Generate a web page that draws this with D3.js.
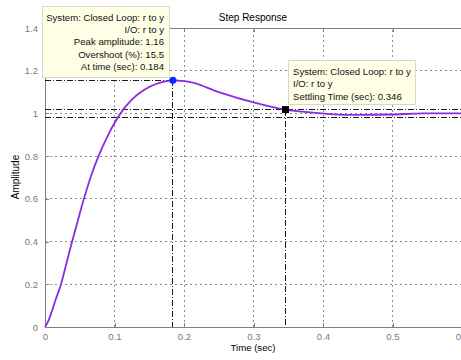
<!DOCTYPE html>
<html>
<head>
<meta charset="utf-8">
<script src="https://cdn.jsdelivr.net/npm/d3@7"></script>
<style>
  html, body { margin: 0; padding: 0; background: #fff; }
  svg { display: block; }
  text { font-family: "Liberation Sans", Arial, sans-serif; }
</style>
</head>
<body>
<svg id="chart" width="461" height="360"></svg>
<script>
// Closed-loop step response r -> y
const timeSec = [0, 0.005, 0.01, 0.015, 0.023, 0.031, 0.039, 0.047, 0.056, 0.066, 0.077, 0.088, 0.1, 0.113, 0.125, 0.137, 0.15, 0.161, 0.173, 0.184, 0.2, 0.211, 0.25, 0.3, 0.346, 0.37, 0.41, 0.45, 0.5, 0.545, 0.6];
const amplitude = [0, 0.03, 0.075, 0.125, 0.2, 0.3, 0.4, 0.495, 0.6, 0.705, 0.8, 0.88, 0.955, 1.02, 1.065, 1.098, 1.124, 1.139, 1.15, 1.155, 1.151, 1.145, 1.10, 1.052, 1.018, 1.008, 0.997, 0.993, 0.995, 1.0, 1.0];

const xTicks = [0, 0.1, 0.2, 0.3, 0.4, 0.5, 0.6];
const yTicks = [0, 0.2, 0.4, 0.6, 0.8, 1, 1.2, 1.4];

// Characteristics shown in the data tips
const peakTime = 0.184;
const peakAmp = 1.155;
const settleTime = 0.346;
const settleAmp = 1.018;
const finalValue = 1;
const settleBand = [1.02, 0.98];

const svg = d3.select("#chart");
const x = d3.scaleLinear().domain([0, 0.6]).range([45, 462]);
const y = d3.scaleLinear().domain([0, 1.4]).range([327, 28]);

const gridColor = "#8c8c8c";
const axisColor = "#808080";

// grid
const grid = svg.append("g");
grid.selectAll("line.gx").data(xTicks.slice(1)).join("line")
  .attr("x1", d => x(d)).attr("x2", d => x(d))
  .attr("y1", y(0)).attr("y2", y(1.4))
  .attr("stroke", gridColor).attr("stroke-width", 1)
  .attr("stroke-dasharray", "2,3")
  .attr("shape-rendering", "crispEdges");
grid.selectAll("line.gy").data(yTicks.slice(1)).join("line")
  .attr("x1", x(0)).attr("x2", x(0.6))
  .attr("y1", d => y(d)).attr("y2", d => y(d))
  .attr("stroke", gridColor).attr("stroke-width", 1)
  .attr("stroke-dasharray", "2,3")
  .attr("shape-rendering", "crispEdges");

// axes
const xAxis = d3.axisBottom(x).tickValues(xTicks).tickSizeInner(-4).tickSizeOuter(0)
  .tickPadding(6).tickFormat(d => String(+d.toFixed(1)));
const yAxis = d3.axisLeft(y).tickValues(yTicks).tickSizeInner(-4).tickSizeOuter(0)
  .tickPadding(7).tickFormat(d => String(+d.toFixed(1)));

const gx = svg.append("g").attr("transform", `translate(0,${y(0)})`).call(xAxis);
const gy = svg.append("g").attr("transform", `translate(${x(0)},0)`).call(yAxis);
const gTop = svg.append("g").attr("transform", `translate(0,${y(1.4)})`)
  .call(d3.axisTop(x).tickValues(xTicks).tickSizeInner(-4).tickSizeOuter(0).tickFormat(""));
[gx, gy, gTop].forEach(g => {
  g.selectAll("path.domain").attr("stroke", axisColor).attr("shape-rendering", "crispEdges");
  g.selectAll(".tick line").attr("stroke", axisColor).attr("shape-rendering", "crispEdges");
  g.selectAll(".tick text").attr("fill", "#7a7a7a").attr("font-size", 9.6)
    .attr("font-family", "Liberation Sans, Arial, sans-serif");
});

// reference lines (dash-dot)
const refStyle = sel => sel.attr("stroke", "#1a1a1a").attr("stroke-width", 1)
  .attr("stroke-dasharray", "6,2,1,2").attr("shape-rendering", "crispEdges").attr("fill", "none");
const refs = svg.append("g");
settleBand.forEach(v => {
  refs.append("line").attr("x1", x(0)).attr("x2", x(0.6))
    .attr("y1", y(v)).attr("y2", y(v)).call(refStyle);
});
refs.append("line").attr("x1", x(0)).attr("x2", x(peakTime))
  .attr("y1", y(peakAmp)).attr("y2", y(peakAmp)).call(refStyle);
refs.append("line").attr("x1", x(peakTime)).attr("x2", x(peakTime))
  .attr("y1", y(peakAmp)).attr("y2", y(0)).call(refStyle);
refs.append("line").attr("x1", x(settleTime)).attr("x2", x(settleTime))
  .attr("y1", y(settleAmp)).attr("y2", y(0)).call(refStyle);

// response curve
const pts = timeSec.map((t, i) => [t, amplitude[i]]);
svg.append("path").datum(pts)
  .attr("fill", "none").attr("stroke", "#8a2be6").attr("stroke-width", 1.8)
  .attr("stroke-linejoin", "round")
  .attr("d", d3.line().curve(d3.curveMonotoneX).x(d => x(d[0])).y(d => y(d[1])));

// markers
svg.append("circle").attr("cx", x(peakTime)).attr("cy", y(peakAmp)).attr("r", 3.6)
  .attr("fill", "#0a28ff");
svg.append("rect").attr("x", x(settleTime) - 3.5).attr("y", y(settleAmp) - 3.5)
  .attr("width", 7).attr("height", 7).attr("fill", "#000");

// data tips
function dataTip(bx, by, bw, bh, lines, anchor, tx, ty0) {
  const g = svg.append("g");
  g.append("rect").attr("x", bx + 0.5).attr("y", by + 0.5).attr("width", bw).attr("height", bh)
    .attr("fill", "#ffffe6").attr("stroke", "#d8d8c8").attr("stroke-width", 1);
  lines.forEach((s, i) => {
    g.append("text").attr("x", tx).attr("y", ty0 + i * 12.3)
      .attr("text-anchor", anchor).attr("font-size", 9.6).attr("fill", "#111").text(s);
  });
}
const overshoot = (peakAmp - finalValue) / finalValue * 100;
dataTip(42, 6, 127, 71, [
  "System: Closed Loop: r to y",
  "I/O: r to y",
  "Peak amplitude: " + peakAmp.toFixed(2),
  "Overshoot (%): " + overshoot.toFixed(1),
  "At time (sec): " + peakTime
], "end", 164, 20.8);
dataTip(288, 60, 127, 44, [
  "System: Closed Loop: r to y",
  "I/O: r to y",
  "Settling Time (sec): " + settleTime
], "start", 293, 75);

// title and labels
svg.append("text").attr("x", 253).attr("y", 21).attr("text-anchor", "middle")
  .attr("font-size", 10).attr("fill", "#000").text("Step Response");
svg.append("text").attr("x", 253).attr("y", 351).attr("text-anchor", "middle")
  .attr("font-size", 9.6).attr("fill", "#000").text("Time (sec)");
svg.append("text").attr("transform", "translate(19,177) rotate(-90)").attr("text-anchor", "middle")
  .attr("font-size", 10).attr("fill", "#000").text("Amplitude");
</script>
</body>
</html>
